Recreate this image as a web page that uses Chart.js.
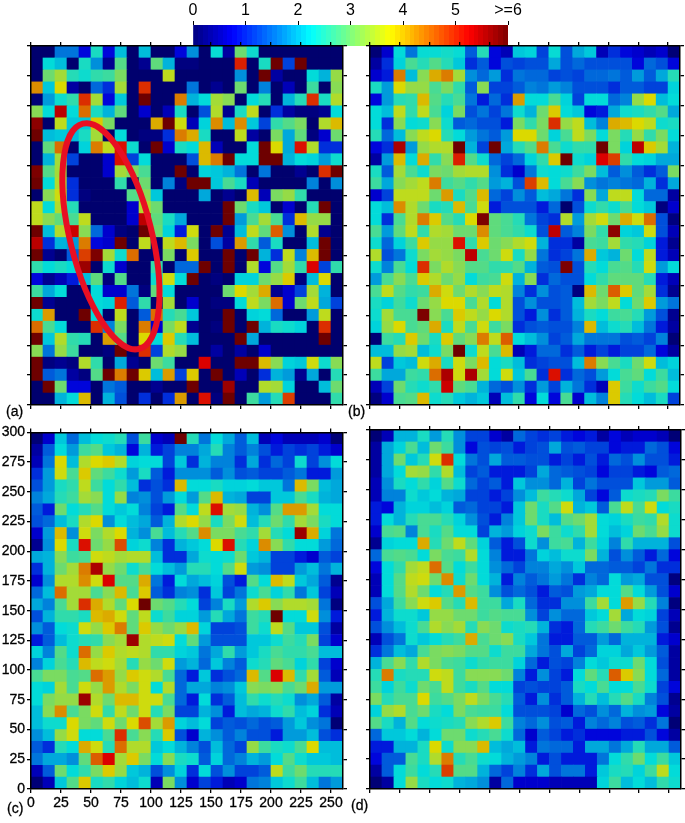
<!DOCTYPE html>
<html>
<head>
<meta charset="utf-8">
<script src="https://cdn.jsdelivr.net/npm/chart.js@4/dist/chart.umd.js"></script>
<style>
  html, body { margin: 0; background: #fff; }
  body { position: relative; width: 685px; height: 823px; overflow: hidden; font-family: "Liberation Sans", sans-serif; }
  canvas { position: absolute; display: block; }
  .tag { position: absolute; font-size: 14px; line-height: 15px; color: #000; -webkit-text-stroke: 0.3px #000; }
</style>
</head>
<body>
<canvas id="bar"></canvas>
<canvas id="a"></canvas>
<canvas id="b"></canvas>
<canvas id="c"></canvas>
<canvas id="d"></canvas>
<div class="tag" style="left:6px;top:404px">(a)</div>
<div class="tag" style="left:348px;top:404px">(b)</div>
<div class="tag" style="left:7px;top:801px">(c)</div>
<div class="tag" style="left:351px;top:798px">(d)</div>
<script>
// rows run from the top of the panel (y 290-300) down to the bottom (y 0-10)
const panelA = [
[0,0,1.3,1.3,.6,2.4,.6,1.9,0,1.9,0,0,.6,1.5,0,2.25,.3,3.1,2.3,0,0,0,0,0,0,0],
[0,2.2,1.9,0,2.4,1.5,.2,2.9,0,.2,3,1.8,.1,.1,0,0,0,5.1,0,2.4,6,.9,6,0,0,0],
[0,3.1,3.5,2.5,2.3,2.6,2.7,3.2,0,0,0,3.7,0,0,0,0,0,1.5,0,6,.3,0,0,2.2,1.8,3.4],
[4.4,2,3.9,.3,0,1.2,.8,3.5,0,5,0,0,0,1.3,0,.2,0,3.1,0,1.4,0,.4,0,2.7,0,3.3],
[.05,1.6,2.3,2.6,5,3.5,.6,2,0,6,0,0,4.5,1.8,2.2,3.5,3.3,0,2.2,2.5,0,1.8,2.5,5,2.4,3.6],
[3.3,2.2,5.5,2.2,4.6,2.4,1.8,3,0,.5,0,.4,2.4,0,1,3.6,.2,2.4,3.7,0,.8,.3,.1,.1,.2,2.2],
[5.8,0,3.7,2,2,4,3.2,0,0,0,4.2,6,3.8,.4,2.1,4.4,1.9,4.4,2,.9,2.6,2.9,3.2,0,3.6,4.1],
[6,1.9,2,1.9,2.4,3.5,0,2.2,0,.1,.1,.8,4.5,4.2,2.4,0,0,3.7,.3,0,3.2,1.7,3,.1,.5,3.1],
[0,3,4.6,0,2.1,4.5,3.7,5.2,2.3,0,6,.5,2.4,2.2,4.1,.4,0,0,2.2,6,3.9,1.7,5.2,3.6,.8,.8],
[0,1.8,3.5,.9,0,0,.5,5.2,.9,2.2,0,0,0,1,4.1,4.5,6,2.2,2.2,6,6,1.8,2.2,2.1,1.6,2.3],
[5.9,2.9,3.5,0,0,0,.5,3.5,3.2,2.8,0,0,6,0,2.1,2,1.8,1.3,0,1.3,0,0,.2,0,5,6],
[6,2.2,3.6,.8,0,0,0,2.6,0,3.1,0,1.4,.1,6,6,2,2.8,2.4,.4,0,0,0,0,1.4,0,1.5],
[0,3.3,3.8,.8,.1,0,0,0,2.9,3.3,2,0,0,0,1.7,0,.2,0,4.1,.4,3.2,3.4,2.6,0,0,0],
[3.7,2.2,3.6,2.5,0,0,0,0,.5,3.6,3.1,0,0,0,0,0,6,3.1,2.4,2,0,.5,0,2.5,6,0],
[3.7,3.3,3,2.8,3.7,0,0,0,.5,5.5,3,2.4,1.7,0,0,0,6,1.6,2.8,3.5,2.8,.8,4.1,3.4,3.4,0],
[6,1.9,3.6,5.4,3.3,1.2,.5,.1,0,6,3.1,2.1,.7,3.8,0,6,.2,1.9,3.7,3,4.7,1.5,0,3.6,.2,0],
[5.5,.8,1.8,1.6,4.5,.6,.5,6,0,3.7,0,3.7,4.1,3.2,0,1,.3,4.3,2.6,1.1,2.4,0,0,1.9,6,0],
[6,.2,0,1.1,4.9,5.9,3.5,2.3,4.6,0,0,3.2,0,4,0,0,6,0,6,1.8,.8,3.7,1.4,4.1,6,0],
[2.6,2.2,2.4,2.2,5.7,0,2.3,.5,0,0,2.6,0,1.2,1.2,6,0,6,0,3.6,.6,2.9,3.5,2.6,5.3,.9,2.6],
[.6,.2,.4,.7,1.9,3,.1,2.9,0,0,2.3,3.8,2.2,6,0,.1,0,2.1,2.1,3.1,3.4,4,.1,1.9,3.9,0],
[2.7,1.7,2.2,0,0,2.2,.5,.5,1.3,.1,3,2.2,0,0,0,0,3.1,3.9,3.5,4.2,.2,.5,.9,3.5,1.8,0],
[6,.2,0,0,0,2.2,2.1,5.1,1.1,2.6,0,3.5,0,.5,0,.1,.1,2.2,3.7,3.2,4.6,.5,3.1,3.7,1.7,.9],
[2.3,4.3,0,0,6,2.2,0,3.7,0,1.1,4.6,2.5,2.8,2,0,0,6,0,2.1,2.2,1.2,0,0,1.6,3.7,0],
[4.6,2.8,2.2,0,0,5,1.4,3.2,0,4.5,.5,3.2,3.7,.2,0,.1,6,0,6,1.8,2.4,2.3,2.1,0,5,0],
[6,2,3.6,2.6,2.5,0,4.3,2.9,0,3.9,2.2,4,2.5,1.9,0,0,0,6,1.7,0,0,0,0,0,6,0],
[3.3,1.3,3.4,2.7,0,0,.1,6,0,5,.9,3.6,3.4,0,0,.3,0,.3,0,.5,0,0,0,0,0,0],
[6,.1,.2,.1,3.6,2.6,0,1.7,.2,0,3.1,2.7,0,0,5.3,0,0,6,6,4.1,3.3,2.1,2,3.8,2.3,3.3],
[6,1.1,1.3,.3,.1,2.9,6,4.5,6,4,1.9,4.3,.9,4,0,6,0,.4,0,.8,1.8,1.6,.2,1.7,0,2.5],
[0,6,3.1,.6,.6,0,1.3,1.1,0,0,.2,0,0,6,0,0,5.7,0,0,3.6,3.5,2.1,0,0,1.9,3.1],
[0,0,1.8,2.2,4.1,0,1.8,1,0,.8,0,.8,4.3,0,5.2,.1,6,0,2.7,1.6,2.5,4.9,0,0,0,2.6]
];
const panelB = [
[.05,.5,2.2,1.3,2.25,2.25,2.35,2.25,1.1,2.5,.6,.4,2,2.1,.9,2.25,1,1.7,2,.4,.8,.6,.5,.4,.5,.05],
[.3,.8,2.1,2.8,2.5,2.9,2.5,2,.8,1.1,.6,1,.9,1,1,1.7,1,1.2,1,1,1,1,.6,1.2,1,.6],
[.5,.7,4.5,1.9,3.3,4.2,4.5,3.5,1.5,1.2,1.6,.8,1.3,1.2,1.2,.9,1,.9,1.2,1.2,1.3,1.1,1.6,1.1,1.7,2.5],
[2.4,1.6,3.9,3.4,3.4,2.8,3.2,2.6,1.1,3.3,.9,.9,1.1,1.4,1.3,1.6,1.4,1,1,1,.8,1.1,1.1,.9,.9,2.1],
[.6,1.6,2.5,2.6,4.1,2.9,2.5,2.8,1.3,.7,1.2,.8,4.3,2.2,2.2,2.8,2.1,.9,2.2,2.2,1.2,1.4,3.4,3.9,1.9,2.2],
[2.2,1.9,3.7,2.6,3.7,2.8,2.1,3.2,1,1.3,.9,1.3,2.3,1.8,3.1,4,2.2,2,.6,.7,1.7,2.3,2.4,2.6,2.9,1.7],
[2.2,.8,3.3,2.2,2.3,3.3,2.3,1.1,1.2,1,1,.7,3.2,2.6,3.2,5,3.4,3.7,1.9,1.4,4.2,4.1,3.9,3.7,2.3,2.4],
[2.5,1.2,1.9,3.3,3.7,3.9,2.5,2.2,1.6,1.3,1.1,1.6,3.9,3.9,3.1,2.1,2.8,3.7,3.2,2.2,3.2,2.5,3.4,2.6,3.2,2.2],
[.6,.8,5.6,1.6,3.4,3.6,3.6,6,1.8,.9,6,1.7,2.5,2.9,4.5,2.8,2.3,2.6,2.6,6,3.2,2.1,5.5,4,3.5,1.8],
[.3,1.6,4.1,2.2,4.2,2.6,3.3,5.1,2.9,2.3,1.2,.9,1.2,2.1,2.6,4,6,2.3,2.1,5.3,4.9,2.6,2.2,2.1,1.7,1.7],
[2.4,1.1,3.5,2.8,2.3,3.2,3.1,3.5,3.6,3.6,1.5,.8,.5,1.3,2.3,2.2,2.3,2.7,3.2,1.9,1.1,1.5,1.1,.8,1.1,3.2],
[2.7,1.7,3.3,3.5,3.7,4.5,2.7,2.9,2.6,2.9,1.6,1.8,1,4.9,4.1,2.2,2.8,3.3,1.5,1.3,1.4,1.3,1.2,1.8,.8,1.7],
[.5,.9,3.7,3.7,3.7,3.1,4.3,2.4,2.9,4.1,1.2,.9,1.5,1.1,1.9,1.7,1.3,.8,3.3,1.7,3.7,3.7,2.2,1.2,1.2,.3],
[2.2,1.9,4.4,3.6,3.1,2.4,2.5,4.1,2.8,3.8,.7,1,1,1,.7,1.2,0,1,2.3,2.6,2.3,2.8,2.2,2,.1,.5],
[2.2,.8,2.8,3.6,4.5,4,2.9,2.5,3.9,5.9,3,2.8,2.5,1.3,.9,.8,3.6,1.6,3.5,3.8,3.1,4.2,3.8,4.6,1,.1],
[2.8,1.6,3,3.7,2.6,3.6,3.5,3.1,3.1,4.4,3,2.8,2.6,2.3,1,5.5,1.1,1.4,3.2,2.6,5.8,2.1,2,3.8,1,.4],
[2.3,1.2,2.1,2.7,4,3.4,3.4,5.2,2.6,4,3.1,3.3,3.6,3.8,1.8,.8,.8,.3,2.8,2.7,3.5,2.6,2.5,2.1,.7,.2],
[3.6,1,1.3,2.3,3.2,3.5,3.4,3.2,5.5,2.8,3.1,3.8,2.4,3.4,1.3,.8,.9,1.3,4.2,2,1.8,3.1,2.2,3.7,.7,.4],
[2.3,1.4,2.8,2.2,5,3.2,3.6,3.3,2.9,2.9,2.6,2.6,2.9,1.8,1.1,1,5.9,1,2.5,2.2,2.8,2.9,2.5,3.8,1.6,2.2],
[1.6,2.8,3.3,2.8,4,3.6,3.1,3.4,2.2,2.7,2.8,3.8,1.8,3.3,.8,1.2,1,1,2.2,2.6,3,3,3,2.5,.7,.4],
[2.8,3.7,2.9,2.6,2.7,4.2,3.8,3.1,3.6,3.3,3.7,3.6,1.4,.8,1.5,1,1.1,.1,4.1,3.1,4.7,4,3,3.5,.8,.2],
[2.4,2.1,2.7,2.3,3.1,3.4,3.9,3.9,2.8,3.6,2.2,3.6,1,1.5,1,1,1.1,1.9,3.5,3.2,3.7,2.2,3.1,4,1.6,1.3],
[2.3,3.5,2.8,2.8,5.9,3.3,2.8,4,3.7,3.4,3.9,3.6,1,.7,1.5,.8,1.1,1.8,2.4,2.2,2.7,2.8,2.5,1.6,1,.2],
[2.1,3.4,3.9,2.8,3,4.2,2.4,3.7,2.8,3.8,2.7,3.2,.8,1,1.1,1,1,1.4,4.1,1.9,2.3,2.5,1.9,1.3,.7,.3],
[.05,2.7,2.5,4,3.1,2.4,4,3,3.3,4.5,3.7,4.7,2.2,1.9,1.5,.9,1.1,1.7,1.3,1.3,1.3,1,1.1,.9,1.4,.05],
[1.9,1.9,3.4,3.5,1.9,2.3,3.2,6,2.3,3.7,2.8,4.1,.4,.7,1.2,1.2,.8,1.1,.7,.9,.7,.9,.9,1.2,.6,.3],
[3.7,.9,2,1.9,3.8,4.2,2.4,3.8,3.2,4.1,2.2,2.4,1.9,.8,.9,1,1,1.9,4.5,3.3,2.8,2.4,3.1,3.8,1.9,2.1],
[2.7,1.7,1.7,2.7,2.6,4.6,5.6,3.8,5.6,3.5,2.2,3.8,2,2.8,.8,5.2,.8,1.2,1,1.6,2.2,2.8,3,2.2,2.7,1.9],
[.4,.9,3.1,2.5,2.3,2.6,5.4,3,2.8,1.8,1.2,1,1.5,.8,1.6,.9,1.8,1.3,.8,.4,4,2.7,2.3,2.7,2.9,2.2],
[.1,.5,2.8,2.9,4.1,2.3,2.5,2,1.8,2,.4,1.9,2.6,.6,2.2,.6,2.8,.5,1.9,1.4,4,2.5,2.2,1.9,2.4,.9]
];
const panelC = [
[.05,.5,2,1.2,1.9,2.2,2.3,2.5,1,2.7,.5,.4,6,2.5,1.3,2.2,1.7,1.1,1.9,.4,.6,.4,.4,.4,.5,.05],
[.3,1.1,2.2,1.6,2.7,2.9,2,1.8,.6,1.8,.7,.9,1.4,1.4,1.7,2.5,1.4,1.1,1.4,1,.7,.9,.8,.9,.7,.5],
[.4,1.3,3.9,1.9,3.6,3.9,4,3.6,2.1,2.2,2.2,.9,2,.8,1.8,1.4,1.4,.8,1.7,.8,1.2,.9,2.3,.9,1.5,2.2],
[.8,1.6,3.8,2.8,4,3,2.7,2.3,1.6,2.4,1.1,.7,1.5,1.5,1.5,1.1,1.5,1,1.1,.9,.9,1.1,1.3,.7,.7,1.6],
[1,1.6,2.4,2.6,3.7,2.7,2.2,2.6,1.9,.8,1,.8,4.1,2.2,2.2,2.4,2.1,2.1,2.2,2,2,1.3,4.1,3.2,1.9,1.7],
[1.4,1.7,2.5,2.7,3.5,3.3,2.2,3.4,1.4,1.5,1,1.6,2.2,1.6,2.9,4.1,1.8,1.7,.9,.9,2,2,2.8,2.4,1.8,1.7],
[1.1,.7,3.1,2.2,2.5,2.9,2.2,2,2.2,1.4,.9,.7,2.9,2.2,3.7,5.2,3.5,3.4,1.8,1.5,2.9,4.3,4.3,3.5,2.2,2.2],
[1,1.2,1.9,2.4,3.6,3.9,1.5,2.2,1.9,1.7,1.1,1.8,3.6,3.9,3.4,2.4,3.2,3.8,1.9,2.5,3.1,2.6,3.5,3.2,2.4,2.2],
[.5,1.6,4.1,1.5,3.8,3.2,3.6,3.9,1.8,1.5,2.8,1.9,2.5,2.9,4.4,3.2,3.2,2.8,2.6,3.5,2.5,2.2,5.7,4.2,2.1,1.3],
[.2,1.5,3.9,2.4,5.2,3.1,3.4,4.8,2.1,2.3,1.4,.8,1.8,2,2.2,3.9,5.2,2.5,2.1,4.4,3.3,2.6,2.2,2.2,1.6,1.2],
[1.7,1.8,3.3,2.7,2.8,3.8,3.7,3.5,3.6,3.6,1.9,.8,.8,1.7,2.3,2.2,2.3,3.1,2,1.8,.9,.9,.7,.5,1.1,.9],
[.8,1.8,3.1,3.5,4.5,5.6,3.4,3.1,2.3,2.8,2.2,1.9,1.6,2.5,2.5,2.2,2.9,3.8,1.6,1.5,.9,.9,1.6,1.9,1.3,1.8],
[.5,1.5,3.6,3.6,4.4,3.8,5.3,2.9,2.9,4.2,1.3,.7,2.2,1.7,1.9,2.1,1,.7,2.9,2.2,4.1,3.7,2,1.7,1.1,.2],
[1.2,1.9,4.6,3.5,3.5,2.8,3.3,4.1,2.8,4,1.1,.8,1.4,1.5,.8,2,.9,1.3,2.3,2.8,2.1,2.6,1.3,2,.9,.4],
[1.7,1.4,2.8,3.5,5,4.2,3.6,3,3.9,6,3.1,2.9,2.5,2.2,.9,1.4,2.4,1.6,3.6,4,3.3,3.6,3.6,3.5,1.3,.1],
[1,1.8,2.6,2.6,2.4,4.1,4.2,3.8,3,3.7,2.3,2.7,2.1,2.1,1.6,2.5,1.7,1.3,2.7,2.5,6,2.2,2.2,3.8,1.5,.7],
[1.5,1.1,2.2,2.3,3.8,3.4,4,4.5,3,4,3.4,3.1,3.4,4.1,2.1,.9,.9,1,2.7,2.3,3.7,2.9,2,2,1,.3],
[.7,1.1,1.9,2.3,2.5,2.6,3.3,3.5,5.7,3.6,3.7,3.8,2.2,3,1.6,1,1,1,2,2,2.3,2.7,2.5,3.2,.9,.5],
[2.1,1.4,2.9,2.3,4.6,3.4,4,3.6,3.7,3.6,2.6,2.6,2.1,2,1.3,1.7,2.6,1.6,2,2.4,2.8,2.6,2.6,2.8,1.9,1.9],
[1.4,2.1,2.8,2.5,4.1,3.7,3.8,3.5,2.5,3.4,3.1,3.8,1.6,1.8,1.2,2,1.4,1.1,2.3,2.5,3,2.8,2.1,2.6,.9,.5],
[2.8,3.2,3.2,2.8,2.9,4.6,4.3,3.4,4,3.8,3.6,2.8,1.2,.7,2,.8,1,1.2,4.1,2.9,5.3,4.1,2.6,3.5,1.1,.4],
[2.2,2.1,3.5,2.8,3.8,3.4,4.3,3.6,3.2,3.8,2.2,3.6,1.2,1.7,1.7,1.4,1.5,2,3.3,3.2,3.3,2.8,3.1,4.2,1.6,1.6],
[2.2,3.2,3.4,3.4,5.7,3.6,3.1,4.1,4.1,3.8,3.8,2.8,1.2,.7,2.2,.8,1.1,1.9,2.6,2.3,2.5,2.3,1.5,1.7,1.1,.3],
[1.9,3.3,4.4,2.8,3.2,3.8,2.6,3.7,3.1,3.8,2.5,3.2,.9,.9,1.8,1.5,.7,1.9,1.7,1.8,2.3,2.6,1.9,2.1,.8,.4],
[1.9,2.3,2.3,3.9,3.2,3,3.8,3.1,3.9,4.8,3.5,4.3,2.1,1.9,2.2,.9,1.1,1,1.2,1,1.1,1.6,2,1.5,1.3,.05],
[1.5,1.9,3.4,3.8,2.2,2.2,2.8,5,2.8,3.3,2.5,4,1,.5,1.8,1.5,1.1,1.4,1,1,.7,1.6,1.6,1.9,1,.8],
[1.1,.8,2.5,2.2,4.2,3.8,2.5,4.6,3.6,3.6,2,2.2,1.8,1.4,1,1.9,1.2,.9,3.4,2.7,2.4,2.3,2.8,3.9,1.9,1.9],
[1.3,1.7,1.7,1.5,3,4.7,5.3,3.5,4,3.2,2.2,3.3,2.4,2.3,1.1,2.1,1.2,1.4,1.8,1.6,2.2,2.9,2.3,2,2,1.9],
[.4,1.1,3.1,2.2,2.6,3.2,4,3.4,2,1.8,1,1.5,2.1,.8,2.2,1,1.5,.9,.9,1.1,3.7,2.7,3.1,2.5,2.5,2.5],
[.05,.4,2,2.9,4,2.4,2.6,2.1,1.9,2.3,.4,3.2,1.5,.5,.9,.7,.4,.5,1.3,1.4,2,2.3,2.7,1.9,1.3,1.6]
];
const panelD = [
[.05,.4,1.8,1.8,2.4,1.6,2.5,1.5,.9,.9,.5,.3,1.2,.9,.8,.9,.7,.6,.7,.3,.6,.4,.5,.5,.4,.05],
[.3,1.7,2.1,2.8,1.9,3.1,2.7,1.5,.6,1,.9,1,.7,.9,1,1.7,1,1.1,.9,.9,.6,.7,.7,1.2,1,.6],
[.3,1.7,3.1,2,2.5,3.8,5,2.2,1.3,1,1.7,1.1,1.1,1,1,.7,.9,.7,1,.7,1.2,1,1.5,1,1,.7],
[.3,1.7,2.2,3.5,3.4,2.6,3.6,1.9,.9,1.1,.7,.7,.7,.9,1.7,1.2,1.1,1,.9,.6,.9,.9,.7,.6,1.1,1.2],
[.4,1.5,2.4,2.2,2.6,2.1,2.9,2.3,1.2,.9,1.1,.7,2,1.5,1.5,1.2,1.8,.9,1.3,1,1,1,2,1.6,1.6,1.1],
[.4,1.4,1.4,2.3,2,2.2,1.8,1.7,.9,.9,.7,.9,1.5,1.9,2.7,2.5,2.3,1.7,.9,.6,1.1,2.3,2.4,2.5,3.2,2.7],
[.7,.6,1.8,2.1,2.1,1.9,2.1,1.1,1.2,.9,.9,.7,2,3.1,2.4,2.9,3.8,1.8,2,1.1,2.8,3.7,2.8,3.8,2.2,2.4],
[.7,2.2,1.8,2.5,2.8,2.8,2.5,2.1,1.5,1,.7,1.4,2,3.1,2.4,1.9,2.9,3.1,3.5,2.2,2.1,2.4,2.7,2.6,3.6,2.3],
[.5,2.8,2.9,1.4,2.8,2.4,2.9,2.2,2.2,.9,1.8,1.6,2.1,2.3,3.2,2.7,2.3,2.6,3.5,2.2,1.9,2.1,3.1,2.8,3.4,2.3],
[.2,2.1,2.2,2.2,4.2,2.5,3.1,3.7,3,2.1,1.1,.7,1,2.3,1.5,2.7,2.8,1.8,2.7,2.1,1.4,2.6,1.8,1.8,1.8,1],
[1.2,2.8,2.9,2.8,2.2,3.2,2.8,2.7,3.6,2.2,1.4,.7,.7,1.3,2.1,1.9,2.3,2.3,3.2,1.8,1,1.5,1.1,.7,1.2,.6],
[.6,2.2,2.6,3.5,3.7,4.6,2.9,2.2,2.7,2.2,1.5,1.2,.9,1.4,1.4,1.7,1.5,2,1.2,1.2,1.1,1.1,.9,1.3,.8,.8],
[.4,2.2,2.9,3.7,3.8,3.1,4.4,2.3,3.1,2.2,1.8,.7,1.4,1.1,1.3,1.6,1.3,.8,1.4,1.2,2.2,1.6,1.7,1,1,.1],
[.4,2.2,2.9,3.6,3.1,2.2,2.5,4.3,2.9,2.7,1.5,1,1.2,1,.7,1.1,1,1.6,1.7,2.2,2.2,2.9,2.2,1.6,1,.5],
[1,1.7,2.7,3.3,3.8,4,2.9,2.5,4.1,2.7,2.7,1.7,2.4,1.2,.8,.8,1.5,1.5,2.7,3.5,2.2,4.3,3.4,2.5,1.4,.1],
[.7,1.8,2.3,2.3,2,3.4,3.4,3.1,3.1,2.7,2.9,2.8,2.8,1.5,.9,1.5,1.2,1.2,2,2.2,3.5,1.7,2.2,2.1,.9,.4],
[1,1.5,1.9,2.3,2.8,3.6,3.3,3.5,2.5,3.3,3.1,2.3,2.4,2.5,1.8,.8,.7,1.2,2.5,2.7,3.1,2.7,2.5,1.6,1,.2],
[.4,1,1.3,2.3,2,2.2,2.5,2.7,4.2,2.8,3.1,3.3,2.4,2,1.3,.7,.7,1.1,1.1,1.6,1.2,1.8,1.8,1.8,.7,.5],
[.8,1.3,1.9,1.7,2.8,3.2,3.3,3.2,2.9,2.9,2.3,2.7,2.7,1.7,1.3,1,1.7,.9,1.2,2.1,2.1,1.7,2,1.6,1.1,.3],
[1.8,2.8,3.3,2.6,3.6,3.2,2.8,2.7,2.3,2.6,2.7,2.7,2.1,1.2,.7,1,.9,1.4,2.2,2,2.3,2.3,3.1,2.2,1,.3],
[2.5,4.5,2.4,2.5,2.5,3.8,3.7,2.7,3.3,3.3,3.3,3.1,1.4,.7,1.5,.9,.7,2.2,3,2.5,4.7,4,3.3,2.2,1.2,.3],
[2.7,2.1,2.7,2.3,3.1,2.8,3.7,2.7,2.4,2.9,2.2,2.2,.9,1,.9,.9,1.1,2.4,2.2,2.8,2.2,2.2,2.8,2.3,.9,.6],
[3.2,2.5,2.8,2.8,3.9,2.7,2.9,3.2,3.7,3.2,2.8,2.5,1.1,.7,1.5,.8,1.1,1.8,2.5,1.9,2.5,2.9,2.4,1.4,1,.2],
[2.1,3.4,3.6,2.8,3.1,2.4,2.2,3.2,2.8,2.7,2.7,2.2,1,1,1,.9,.5,1.2,1,1.5,1.2,1.8,1.5,1.6,.6,.3],
[2.9,2.4,1.8,2.9,2.2,2.3,2.4,2.5,3.3,3.6,4,2.7,1.4,1.2,1.5,1,1.1,.7,1.4,1.2,1.4,1,1.1,.8,1.3,.05],
[1.2,2,2,2.2,1.8,2.2,3.1,3.1,2.3,2.5,2.8,2.3,1.2,.5,1.1,.9,.7,.8,.6,.6,.6,.7,.7,1,.6,.3],
[.7,.7,1.8,1.8,2.4,3.9,2.3,3.3,3.3,4.1,1.9,1.7,1.9,.7,1.3,1.2,1.2,.7,1.7,1.7,1.3,1.7,2.5,1.7,1.7,1.1],
[.6,1.1,1.1,2.8,2.4,3.6,4.5,2.5,2.8,2.3,2.2,1.8,1.6,1.4,.7,1,.7,.7,.7,1.3,2.2,2.6,3.1,2.2,2.7,2],
[.3,1.1,2.2,2.7,2.2,2.5,4.9,2.9,2.9,1.8,1.2,.9,1.4,.8,1.7,1,1.3,1.3,.7,2,2.4,2.5,2.1,2.7,3.7,2.2],
[.05,.3,2.2,3.4,2.4,2.2,2.3,1.8,1.7,1.5,.3,1.2,.5,.5,.5,.4,.4,.4,.4,2.1,2.7,1.9,2.2,1.9,2.6,2.3]
];
const xCentres = [5,15,25,35,45,55,65,75,85,95,105,115,125,135,145,155,165,175,185,195,205,215,225,235,245,255];
const cellSize = 10;
const barTicks = [0,1,2,3,4,5,6];
// my readings ran low in the blues and high in the yellows, this pulls the cell colours back
const toneIn = [0, .3, .5, .9, 1.3, 1.7, 2.25, 3, 3.7, 4.5, 6];
const toneOut = [0, .35, .65, 1.2, 1.55, 1.9, 2.3, 2.9, 3.55, 4.4, 6];
const tickFont = { family: '"Liberation Sans", sans-serif', size: 14 };

function tone(v) {
  let i = 0;
  while (i < toneIn.length - 2 && v > toneIn[i + 1]) i++;
  return toneOut[i] + (v - toneIn[i]) * (toneOut[i + 1] - toneOut[i]) / (toneIn[i + 1] - toneIn[i]);
}

// jet colour map over 0..6, dim < 1 darkens it the way the scanned cells look
function jet(v, dim) {
  const t = Math.min(Math.max(v / 6, 0), 1);
  const ramp = (up, down) => Math.round(255 * dim * Math.min(Math.max(Math.min(4 * t + up, -4 * t + down), 0), 1));
  return `rgb(${ramp(-1.5, 4.5)},${ramp(-0.5, 3.5)},${ramp(0.5, 2.5)})`;
}

const ellipsePlugin = {
  id: 'ellipse',
  afterDatasetsDraw(chart, args, o) {
    if (!o.on) return;
    const { x, y } = chart.scales;
    const ctx = chart.ctx;
    ctx.save();
    ctx.strokeStyle = '#e80f23';
    ctx.lineWidth = 6;
    ctx.beginPath();
    ctx.ellipse(x.getPixelForValue(o.cx), y.getPixelForValue(o.cy),
      x.getPixelForValue(o.rx) - x.getPixelForValue(0),
      y.getPixelForValue(0) - y.getPixelForValue(o.ry),
      o.tilt * Math.PI / 180, 0, Math.PI * 2);
    ctx.stroke();
    ctx.restore();
  },
};

function axis(position, size, labels) {
  const horizontal = position === 'top' || position === 'bottom';
  return {
    type: 'linear',
    position,
    min: 0,
    max: horizontal ? 260 : 300,
    offset: false,
    stacked: position === 'bottom' || position === 'left',
    border: { display: true, color: '#000', width: 1.5, z: 2 },
    grid: { offset: false, drawOnChartArea: false, drawTicks: true, tickLength: 4, color: '#000', lineWidth: 1.3, z: 2 },
    ticks: { display: !!labels, stepSize: 25, includeBounds: false, autoSkip: false, maxRotation: 0,
             color: '#000', font: tickFont, padding: 2, textStrokeColor: '#000', textStrokeWidth: 0.3 },
    afterFit: s => { if (horizontal) s.height = size; else s.width = size; },
  };
}

function panel(id, rows, box, ellipse) {
  const m = box.m;
  const el = document.getElementById(id);
  el.style.left = (box.l - m.l) + 'px';
  el.style.top = (box.t - m.t) + 'px';
  el.width = box.w + m.l + m.r;
  el.height = box.h + m.t + m.b;
  const bottomUp = rows.slice().reverse();
  new Chart(el, {
    type: 'bar',
    data: {
      datasets: bottomUp.map(row => ({
        data: xCentres.map(x => ({ x, y: cellSize })),
        backgroundColor: row.map(v => jet(tone(v), 0.86)),
        borderWidth: 0,
        barPercentage: 1,
        categoryPercentage: 1,
      })),
    },
    options: {
      responsive: false,
      animation: false,
      layout: { padding: 0 },
      plugins: { legend: { display: false }, tooltip: { enabled: false }, ellipse: ellipse || {} },
      scales: {
        x: axis('bottom', m.b, box.labels),
        x2: axis('top', m.t, false),
        y: axis('left', m.l, box.labels),
        y2: axis('right', m.r, false),
      },
    },
    plugins: [ellipsePlugin],
  });
}

const plain = { l: 8, r: 8, t: 8, b: 8 };
panel('a', panelA, { l: 31, t: 46, w: 312, h: 359, m: plain },
  { on: true, cx: 66.6, cy: 141, rx: 34, ry: 97, tilt: -14 });
panel('b', panelB, { l: 370, t: 46, w: 310, h: 359, m: plain });
panel('c', panelC, { l: 31, t: 430, w: 312, h: 359, m: { l: 31, r: 8, t: 8, b: 26 }, labels: true });
panel('d', panelD, { l: 370, t: 430, w: 311, h: 359, m: plain });

// colour bar on top
const barEl = document.getElementById('bar');
barEl.style.left = '173px';
barEl.style.top = '0px';
barEl.width = 355;
barEl.height = 46;
new Chart(barEl, {
  type: 'bar',
  data: {
    labels: [''],
    datasets: [{
      data: [[barTicks[0], barTicks[barTicks.length - 1]]],
      borderWidth: 0,
      barPercentage: 1,
      categoryPercentage: 1,
      backgroundColor: c => {
        const a = c.chart.chartArea;
        if (!a) return '#000';
        const g = c.chart.ctx.createLinearGradient(a.left, 0, a.right, 0);
        const steps = 64;
        for (let i = 0; i < steps; i++) {
          const col = jet((i + 0.5) * 6 / steps, 1);
          g.addColorStop(i / steps, col);
          g.addColorStop((i + 1) / steps, col);
        }
        return g;
      },
    }],
  },
  options: {
    indexAxis: 'y',
    responsive: false,
    animation: false,
    layout: { padding: { left: 20, right: 20 } },
    plugins: { legend: { display: false }, tooltip: { enabled: false } },
    scales: {
      y: { display: false },
      x: {
        type: 'linear',
        position: 'top',
        min: 0,
        max: 6,
        border: { display: false },
        grid: { drawOnChartArea: false, tickLength: 4, color: '#000', lineWidth: 1 },
        ticks: { stepSize: 1, color: '#000', padding: 1, maxRotation: 0,
                 font: { family: '"Liberation Sans Narrow", "Liberation Sans", sans-serif', size: 16 },
                 callback: v => (v === 6 ? '>=6' : String(v)) },
        afterFit: s => { s.height = 25; },
      },
    },
  },
});
</script>
</body>
</html>
